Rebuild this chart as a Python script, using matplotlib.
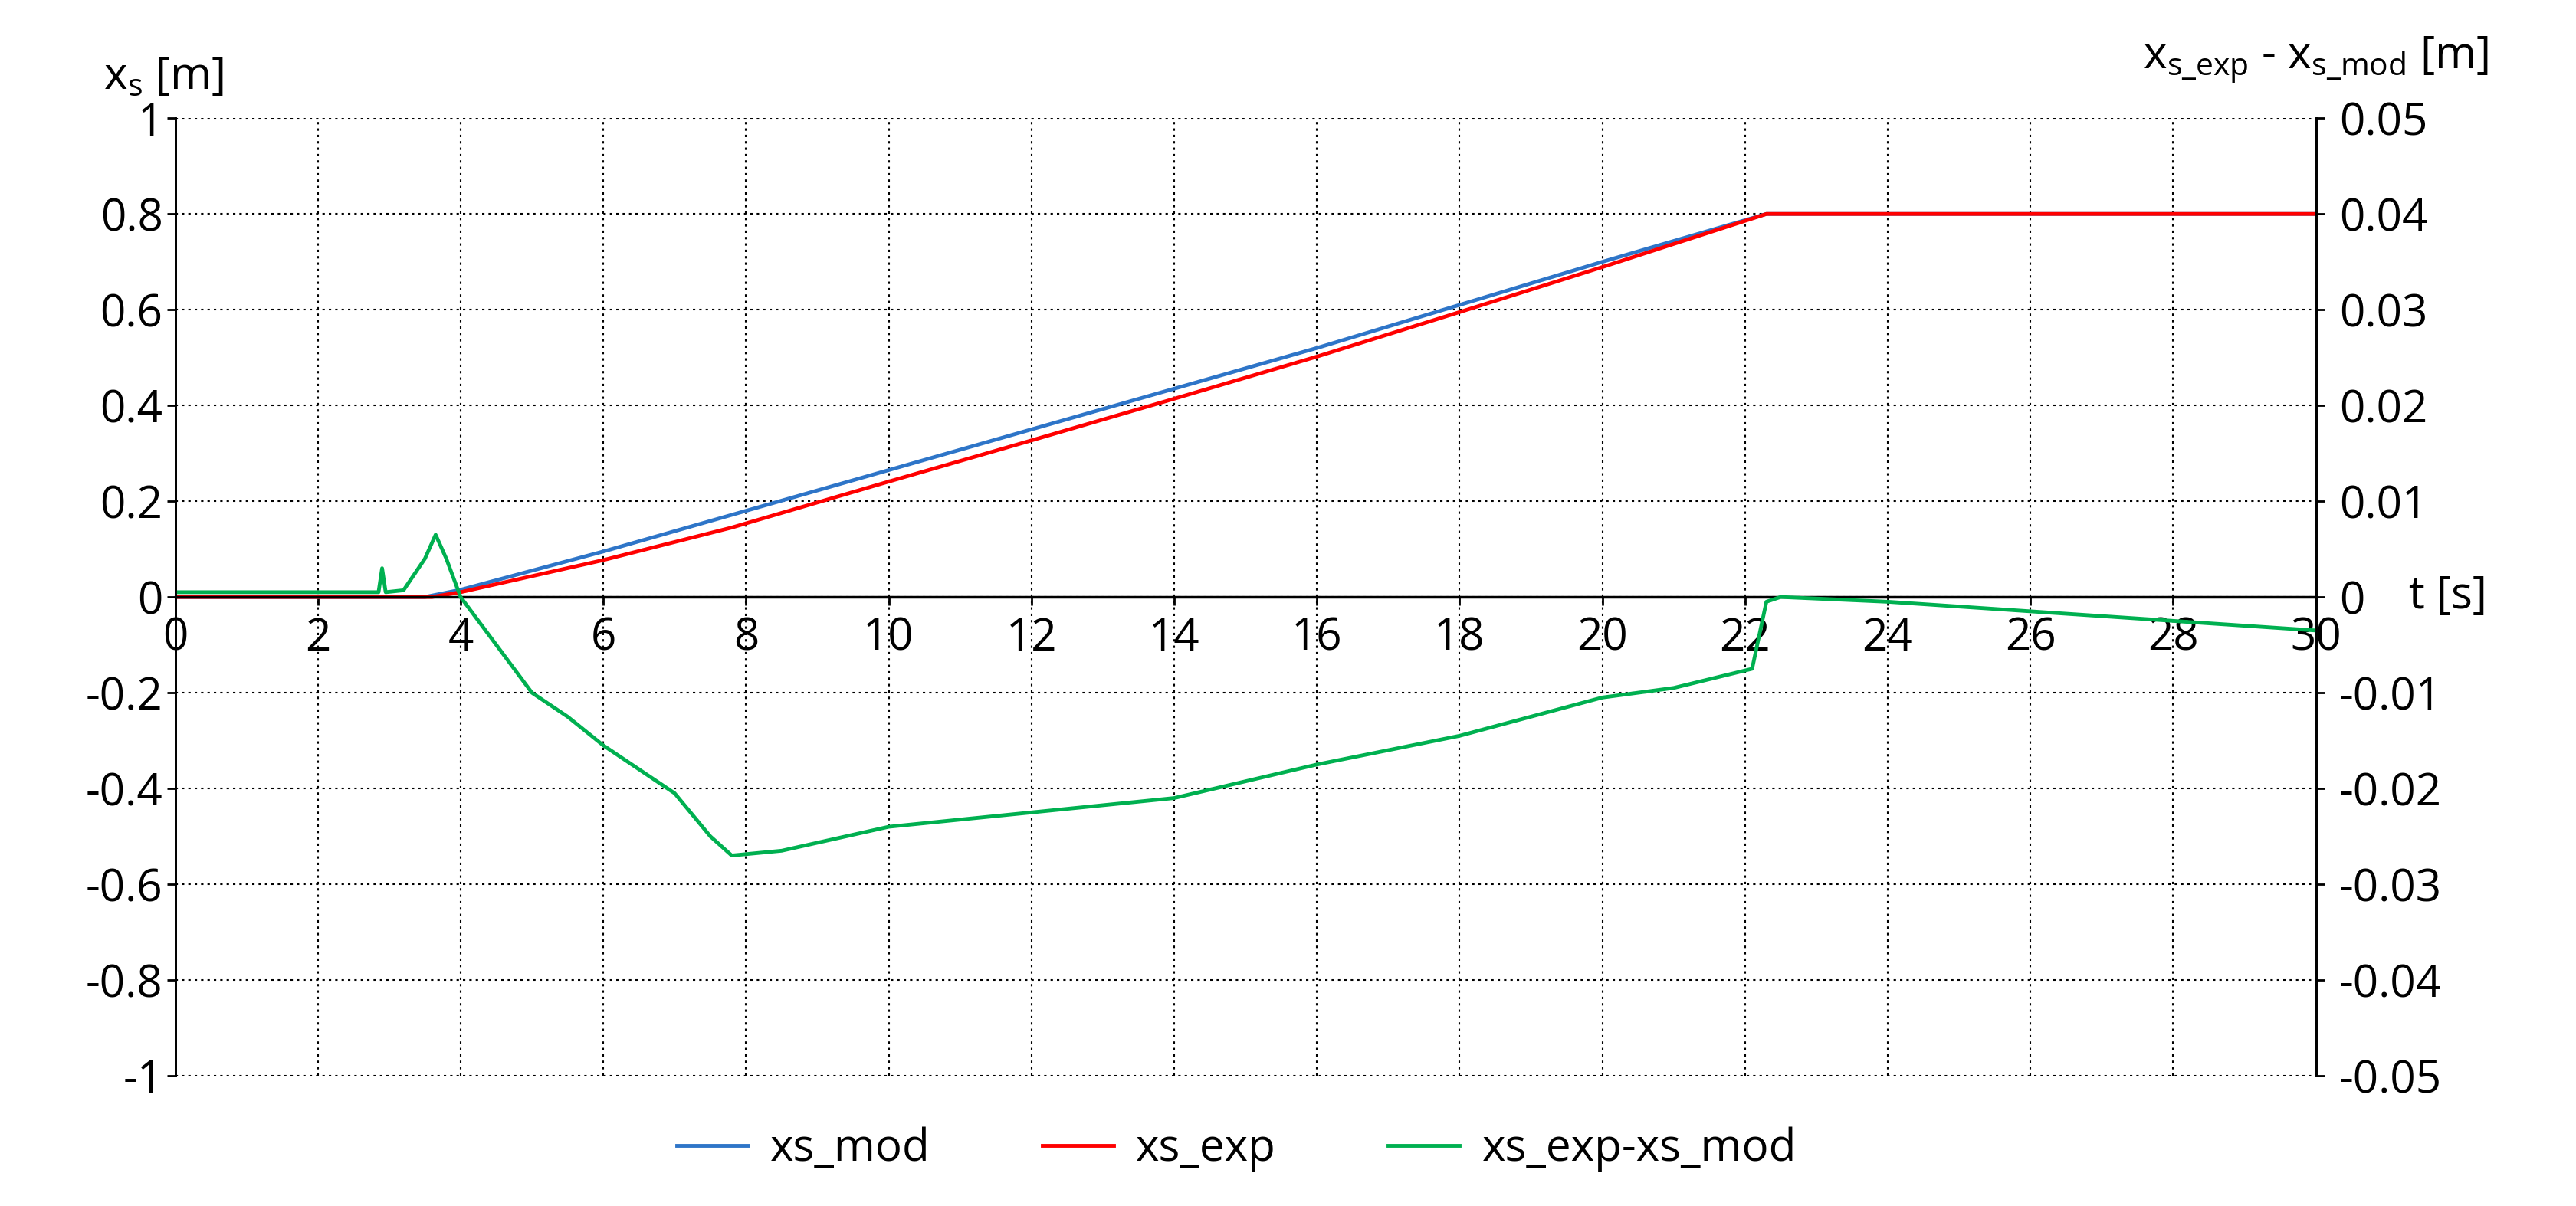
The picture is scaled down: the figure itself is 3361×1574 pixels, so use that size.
import numpy as np
import matplotlib.pyplot as plt

plt.rcParams['font.family'] = ['Open Sans', 'DejaVu Sans']

# keypoints
t_mod = [0, 3.5, 4, 6, 8, 10, 12, 14, 16, 18, 20, 22.3, 30]
xs_mod = [0, 0, 0.015, 0.095, 0.18, 0.265, 0.35, 0.435, 0.52, 0.61, 0.70, 0.80, 0.80]
t_exp = [0, 3.6, 4, 6, 7.8, 10, 12, 14, 16, 18, 20, 22.3, 30]
xs_exp = [0, 0, 0.01, 0.077, 0.145, 0.241, 0.327, 0.414, 0.502, 0.595, 0.689, 0.80, 0.80]
t_diff = [0, 2.85, 2.9, 2.95, 3.2, 3.5, 3.65, 3.8, 4.0, 4.5, 5.0, 5.5, 6.0, 6.5, 7.0, 7.5, 7.8,
          8.5, 10, 12, 14, 16, 18, 20, 21, 22.1, 22.3, 22.5, 24, 26, 28, 30]
xs_diff = [0.0005, 0.0005, 0.003, 0.0005, 0.0007, 0.004, 0.0065, 0.004, 0.0, -0.005, -0.01,
           -0.0125, -0.0155, -0.018, -0.0205, -0.025, -0.027, -0.0265, -0.024, -0.0225,
           -0.021, -0.0175, -0.0145, -0.0105, -0.0095, -0.0075, -0.0005, 0.0, -0.0005,
           -0.0015, -0.0025, -0.0035]

fig = plt.figure(figsize=(33.61, 15.74), dpi=100)
ax = fig.add_axes([0.068, 0.108, 0.831, 0.794])
ax2 = ax.twinx()

l1, = ax.plot(t_mod, xs_mod, color='#2e75c8', lw=3.5, label='xs_mod')
l2, = ax.plot(t_exp, xs_exp, color='#ff0000', lw=3.5, label='xs_exp')
l3, = ax2.plot(t_diff, xs_diff, color='#00b050', lw=3.5, label='xs_exp-xs_mod')

ax.set_xlim(0, 30)
ax.set_ylim(-1, 1)
ax2.set_ylim(-0.05, 0.05)
ax.set_xticks(np.arange(0, 31, 2))
ax.set_yticks(np.round(np.arange(-1, 1.01, 0.2), 1))
ax.set_yticklabels(['-1', '-0.8', '-0.6', '-0.4', '-0.2', '0', '0.2', '0.4', '0.6', '0.8', '1'])
ax2.set_yticks(np.round(np.arange(-0.05, 0.051, 0.01), 2))
ax2.set_yticklabels(['-0.05', '-0.04', '-0.03', '-0.02', '-0.01', '0', '0.01', '0.02',
                     '0.03', '0.04', '0.05'])
ax.grid(True, color='black', linestyle=(0, (1.5, 2.5)), lw=1.5)

for a in (ax, ax2):
    a.spines['top'].set_visible(False)
    a.spines['bottom'].set_visible(False)
    a.spines['left'].set_linewidth(2)
    a.spines['right'].set_linewidth(2)
    a.tick_params(labelsize=42, width=2, length=8)
ax.spines['bottom'].set_visible(True)
ax.spines['bottom'].set_position(('data', 0))
ax.spines['bottom'].set_linewidth(2.5)
ax.tick_params(axis='x', pad=10)
ax2.tick_params(axis='y', pad=14)

ax.text(-1.0, 1.04, r'x$_\mathregular{s}$ [m]', fontsize=42, ha='left', va='bottom',
        transform=ax.transData, clip_on=False)
ax.text(1.0, 1.035, r'x$_\mathregular{s\_exp}$ - x$_\mathregular{s\_mod}$ [m]', fontsize=42,
        ha='center', va='bottom', transform=ax.transAxes, clip_on=False)
ax.text(31.3, 0, 't [s]', fontsize=42, ha='left', va='center', clip_on=False)

fig.legend(handles=[l1, l2, l3], loc='lower center', bbox_to_anchor=(0.48, -0.005), ncol=3,
           frameon=False, fontsize=42, handlelength=1.6, handletextpad=0.5, columnspacing=2.5)

fig.savefig('out.png', dpi=100, facecolor='white')
